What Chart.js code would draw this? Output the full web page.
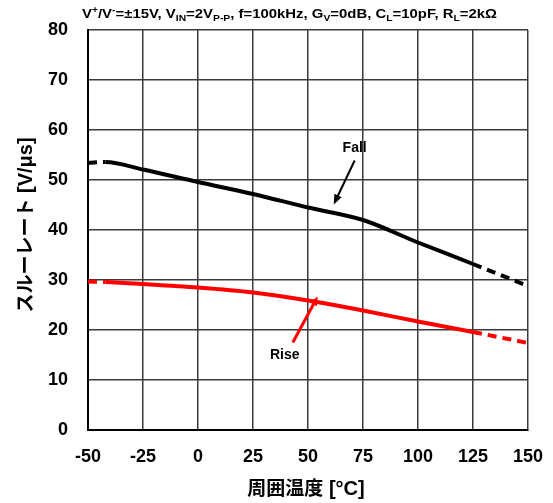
<!DOCTYPE html>
<html><head><meta charset="utf-8">
<script src="https://cdn.jsdelivr.net/npm/chart.js@4"></script>
<style>html,body{margin:0;padding:0;background:#fff}#w{width:553px;height:503px}</style>
</head><body><div id="w"><canvas id="c" width="553" height="503"></canvas></div>
<script>
const fallTemps = [-50, -42, -25, 0, 25, 50, 75, 100, 125, 150];
const fallRate  = [53.4, 53.6, 52.1, 49.6, 47.2, 44.5, 42.0, 37.5, 33.2, 28.8];
const riseTemps = [-50, -42, -25, 0, 25, 50, 75, 100, 125, 150];
const riseRate  = [29.7, 29.6, 29.2, 28.5, 27.5, 25.9, 23.9, 21.7, 19.6, 17.4];
const xTicks = [-50, -25, 0, 25, 50, 75, 100, 125, 150];
const yTicks = [0, 10, 20, 30, 40, 50, 60, 70, 80];
const labels = {fall: 'Fall', rise: 'Rise'};
const xTitle = ['周囲温度', ' [°C]'];
const yTitle = ['スルーレート', ' [V/μs]'];
// annotation anchors in data units
const fallArrow = {from: [71.2, 53.9], to: [61.7, 45.1], text: [71.2, 56.3]};
const riseArrow = {from: [43.1, 17.5], to: [54.4, 26.7], text: [39.4, 14.9]};

const FONT = "'Liberation Sans', Arial, sans-serif";
const CJK = "'Noto Sans CJK JP', sans-serif";
const dashSeg = ctx => (ctx.p1.parsed.x <= -40 || ctx.p0.parsed.x >= 125) ? [9, 6] : undefined;

function mixedText(ctx, parts, cx, cy, rot) {
  const fonts = ['bold 19px ' + CJK, 'bold 20px ' + FONT];
  ctx.save();
  ctx.translate(cx, cy); ctx.rotate(rot);
  ctx.fillStyle = '#000'; ctx.textBaseline = 'middle'; ctx.textAlign = 'left';
  let w = 0;
  parts.forEach((t, i) => { ctx.font = fonts[i]; w += ctx.measureText(t).width; });
  let x = -w / 2;
  parts.forEach((t, i) => { ctx.font = fonts[i]; ctx.fillText(t, x, i ? 1 : 0); x += ctx.measureText(t).width; });
  ctx.restore();
}

const annot = {
  id: 'annot',
  afterDatasetsDraw(chart) {
    const {ctx, scales: {x, y}} = chart;
    const P = p => [x.getPixelForValue(p[0]), y.getPixelForValue(p[1])];
    function arrow(a, color, lw, head, hw) {
      const [x0, y0] = P(a.from), [x1, y1] = P(a.to);
      const ang = Math.atan2(y1 - y0, x1 - x0);
      ctx.save();
      ctx.strokeStyle = color; ctx.fillStyle = color; ctx.lineWidth = lw;
      ctx.beginPath(); ctx.moveTo(x0, y0);
      ctx.lineTo(x1 - Math.cos(ang) * head * 0.8, y1 - Math.sin(ang) * head * 0.8); ctx.stroke();
      ctx.beginPath(); ctx.moveTo(x1, y1);
      ctx.lineTo(x1 - head * Math.cos(ang) + hw * Math.sin(ang), y1 - head * Math.sin(ang) - hw * Math.cos(ang));
      ctx.lineTo(x1 - head * Math.cos(ang) - hw * Math.sin(ang), y1 - head * Math.sin(ang) + hw * Math.cos(ang));
      ctx.closePath(); ctx.fill();
      ctx.restore();
    }
    arrow(fallArrow, '#000', 2, 10, 4);
    arrow(riseArrow, '#ff0000', 3, 9, 4);
    ctx.save();
    ctx.font = 'bold 14px ' + FONT; ctx.fillStyle = '#000';
    ctx.textAlign = 'center'; ctx.textBaseline = 'middle';
    let p = P(fallArrow.text); ctx.fillText(labels.fall, p[0], p[1]);
    p = P(riseArrow.text); ctx.fillText(labels.rise, p[0], p[1]);
    ctx.restore();
  },
  afterDraw(chart) {
    const ctx = chart.ctx;
    const area = chart.chartArea;
    mixedText(ctx, yTitle, 25, 225, -Math.PI / 2);
    mixedText(ctx, xTitle, (area.left + area.right) / 2 - 2, 488, 0);
    // header
    const parts = [
      ['V', 0], ['+', 1], ['/V', 0], ['-', 1], ['=±15V, V', 0], ['IN', -1], ['=2V', 0], ['P-P', -1],
      [', f=100kHz, G', 0], ['V', -1], ['=0dB, C', 0], ['L', -1], ['=10pF, R', 0], ['L', -1], ['=2kΩ', 0]
    ];
    ctx.save();
    ctx.fillStyle = '#000'; ctx.textBaseline = 'alphabetic';
    const big = 'bold 13px ' + FONT, small = 'bold 9px ' + FONT;
    let total = 0;
    parts.forEach(([t, s]) => { ctx.font = s ? small : big; total += ctx.measureText(t).width; });
    const target = 415, sc = target / total;
    ctx.translate(82, 18); ctx.scale(sc, 1);
    let xx = 0;
    parts.forEach(([t, s]) => {
      ctx.font = s ? small : big;
      const dy = s === 1 ? -5 : (s === -1 ? 3 : 0);
      ctx.fillText(t, xx, dy);
      xx += ctx.measureText(t).width;
    });
    ctx.restore();
  }
};

new Chart(document.getElementById('c'), {
  type: 'line',
  data: {
    datasets: [
      {label: labels.fall, data: fallTemps.map((t, i) => ({x: t, y: fallRate[i]})),
       borderColor: '#000', borderWidth: 4, pointRadius: 0, cubicInterpolationMode: 'monotone',
       segment: {borderDash: dashSeg}},
      {label: labels.rise, data: riseTemps.map((t, i) => ({x: t, y: riseRate[i]})),
       borderColor: '#ff0000', borderWidth: 4, pointRadius: 0, cubicInterpolationMode: 'monotone',
       segment: {borderDash: dashSeg}}
    ]
  },
  options: {
    responsive: false, animation: false, devicePixelRatio: 1,
    layout: {padding: {top: 30, right: 25, left: 0, bottom: 0}},
    plugins: {legend: {display: false}, tooltip: {enabled: false}},
    scales: {
      x: {
        type: 'linear', min: -50, max: 150,
        afterBuildTicks: s => { s.ticks = xTicks.map(v => ({value: v})); },
        afterFit: s => { s.height = 73; s.paddingLeft = 0; s.paddingRight = 0; },
        grid: {color: '#3a3a3a', lineWidth: 1.5, drawTicks: false},
        border: {color: '#000', width: 2},
        ticks: {color: '#000', font: {family: FONT, size: 18, weight: 'bold'}, padding: 16, maxRotation: 0, autoSkip: false}
      },
      y: {
        type: 'linear', min: 0, max: 80,
        afterBuildTicks: s => { s.ticks = yTicks.map(v => ({value: v})); },
        afterFit: s => { s.width = 88; s.paddingTop = 0; s.paddingBottom = 0; },
        grid: {color: '#3a3a3a', lineWidth: 1.5, drawTicks: false},
        border: {color: '#000', width: 2},
        ticks: {color: '#000', font: {family: FONT, size: 18, weight: 'bold'}, padding: 20}
      }
    }
  },
  plugins: [annot]
});
</script>
</body></html>
